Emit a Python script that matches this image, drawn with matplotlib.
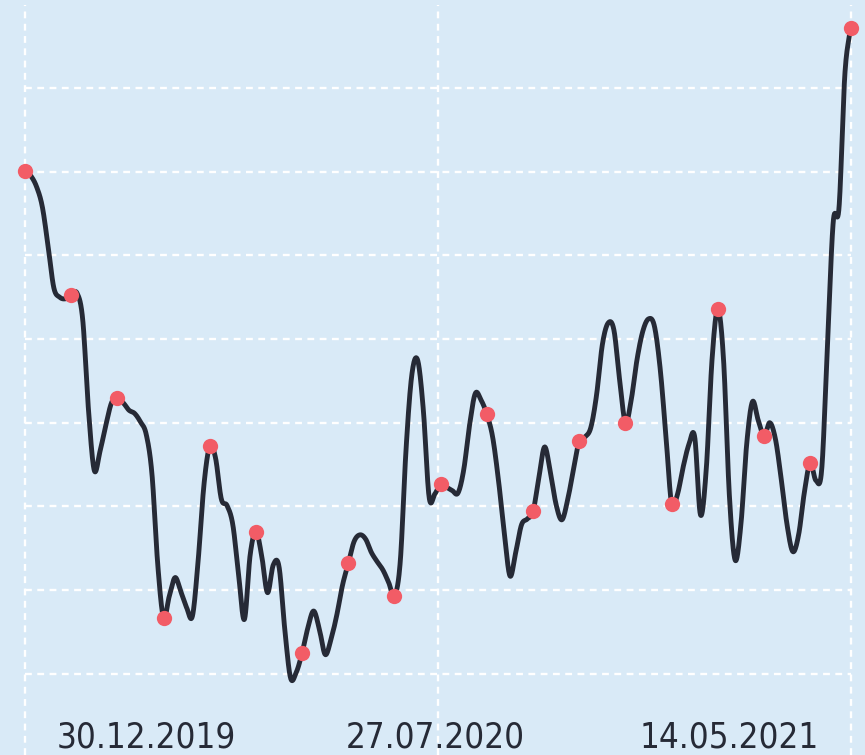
import numpy as np
import matplotlib
matplotlib.use('Agg')
import matplotlib.pyplot as plt
import matplotlib.transforms as mtransforms
from matplotlib import font_manager


BG = '#d9eaf7'
LINE = '#262a36'
DOT = '#f25c66'

# one value per sample (sample index 0..143)
values = [
    70.1, 69.5, 68.2, 65.8, 61.1, 56.1, 55.0, 54.8, 55.2, 55.5,
    52.3, 41.5, 34.3, 36.6, 39.7, 42.4, 43.0, 42.4, 41.5, 41.1,
    40.1, 38.6, 33.8, 23.0, 16.7, 19.3, 21.5, 19.8, 17.9, 16.9,
    23.6, 32.6, 37.2, 35.8, 30.9, 30.1, 27.8, 21.8, 16.5, 24.2,
    27.0, 24.1, 19.7, 23.0, 22.8, 15.3, 9.5, 10.2, 12.5, 15.5,
    17.5, 15.3, 12.3, 14.1, 17.0, 20.6, 23.2, 25.8, 26.6, 26.1,
    24.5, 23.4, 22.4, 20.9, 19.3, 23.4, 36.8, 45.7, 47.5, 41.5,
    31.1, 31.5, 32.7, 32.3, 31.9, 31.6, 34.4, 39.7, 43.5, 42.7,
    41.0, 38.3, 33.2, 27.0, 21.7, 24.5, 27.8, 28.5, 29.4, 33.4,
    37.1, 34.1, 30.2, 28.4, 30.8, 34.4, 37.8, 38.3, 39.4, 43.3,
    49.3, 51.9, 51.1, 45.1, 40.0, 42.7, 47.5, 50.9, 52.4, 51.6,
    46.6, 38.6, 30.3, 31.4, 34.7, 37.4, 38.3, 29.0, 34.4, 47.5,
    53.6, 47.5, 31.4, 23.6, 27.8, 37.4, 42.5, 40.3, 38.4, 40.0,
    38.0, 33.2, 27.8, 24.6, 26.6, 31.7, 35.2, 33.1, 34.4, 49.3,
    64.0, 65.7, 81.5, 87.2,
]
marker_step = 8
tick_idx = [21, 71, 122]
tick_labels = ['30.12.2019', '27.07.2020', '14.05.2021']
grid_y = [10, 20, 30, 40, 50, 60, 70, 80]


def catmull_rom(y, per_seg=24):
    # smooth curve through every sample (uniform spacing)
    n = len(y)
    m = np.zeros(n)
    m[1:-1] = (y[2:] - y[:-2]) / 2
    m[0], m[-1] = y[1] - y[0], y[-1] - y[-2]
    t = np.linspace(0, 1, per_seg, endpoint=False)
    h00 = 2 * t**3 - 3 * t**2 + 1
    h10 = t**3 - 2 * t**2 + t
    h01 = -2 * t**3 + 3 * t**2
    h11 = t**3 - t**2
    xs, ys = [], []
    for k in range(n - 1):
        xs.append(k + t)
        ys.append(h00 * y[k] + h10 * m[k] + h01 * y[k + 1] + h11 * m[k + 1])
    xs.append([n - 1])
    ys.append([y[-1]])
    return np.concatenate(xs), np.concatenate(ys)


def pick_font():
    fonts = font_manager.fontManager.ttflist
    for f in fonts:
        if f.name == 'DejaVu Sans' and 'Condensed' in f.fname and 'Bold' not in f.fname \
                and 'Oblique' not in f.fname:
            return dict(family='DejaVu Sans', stretch='condensed', size=25)
    if any(f.name == 'Liberation Sans Narrow' for f in fonts):
        return dict(family='Liberation Sans Narrow', size=29)
    return dict(family='DejaVu Sans', size=22.5)


y = np.array(values, dtype=float)
x = np.arange(len(y), dtype=float)
marks = list(range(0, len(y) - 1, marker_step)) + [len(y) - 1]

fig = plt.figure(figsize=(8.65, 7.55), dpi=100, facecolor=BG)
ax = fig.add_axes([0, 0, 1, 1])
ax.set_facecolor(BG)
ax.set_xlim(-4.33, 145.5)
ax.set_ylim(0.3, 90.5)
for s in ax.spines.values():
    s.set_visible(False)
ax.set_xticks([])
ax.set_yticks([])

dash = (0, (2.9, 2.3))
ax.hlines(grid_y, x[0], x[-1], colors='white', linewidth=1.7, linestyles=[dash], zorder=1)
ax.vlines([x[0], x[-1] / 2, x[-1]], 0.3, 89.9, colors='white', linewidth=1.7,
          linestyles=[dash], zorder=1)

xs, ys = catmull_rom(y)
ax.plot(xs, ys, color=LINE, linewidth=3.5, solid_capstyle='round',
        solid_joinstyle='round', zorder=2)
ax.plot(x[marks], y[marks], 'o', color=DOT, markersize=11, markeredgewidth=0, zorder=3)

font = pick_font()
trans = mtransforms.blended_transform_factory(ax.transData, ax.transAxes)
for i, lab in zip(tick_idx, tick_labels):
    ax.text(i, 0.001, lab, transform=trans, ha='center', va='bottom', color=LINE, **font)

fig.savefig('out.png', dpi=100, facecolor=BG)
